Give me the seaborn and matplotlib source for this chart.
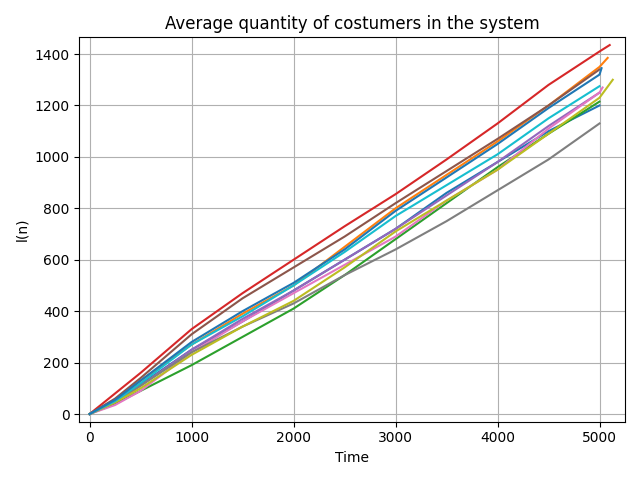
import numpy as np
import pandas as pd
import matplotlib
matplotlib.use("Agg")
import matplotlib.pyplot as plt
import seaborn as sns

time_grid = [0, 250, 500, 1000, 1500, 2000, 2500, 3000, 3500, 4000, 4500, 5000]

blue_a = [0, 50, 115, 250, 360, 480, 600, 720, 860, 980, 1100, 1200]
orange = [0, 55, 130, 270, 390, 500, 650, 800, 930, 1060, 1200, 1350]
green = [0, 40, 90, 190, 300, 410, 540, 680, 820, 960, 1090, 1215]
red = [0, 80, 160, 330, 470, 600, 730, 855, 990, 1130, 1280, 1410]
purple = [0, 50, 110, 250, 370, 480, 600, 720, 850, 980, 1120, 1250]
brown = [0, 60, 140, 310, 450, 570, 690, 820, 945, 1070, 1200, 1340]
pink = [0, 35, 90, 240, 360, 470, 580, 690, 830, 950, 1110, 1250]
gray = [0, 45, 110, 240, 340, 430, 540, 640, 750, 870, 990, 1130]
olive = [0, 45, 100, 230, 340, 440, 570, 710, 830, 950, 1090, 1230]
cyan = [0, 50, 120, 270, 380, 500, 630, 770, 890, 1010, 1150, 1275]
blue_b = [0, 55, 130, 280, 400, 510, 640, 790, 920, 1050, 1190, 1320]

series = [blue_a, orange, green, red, purple, brown, pink, gray, olive, cyan, blue_b]
# final point of each run (time, value), None if run stops at 5000
end_points = [None, (5080, 1385), None, (5100, 1435), None, None,
              (5030, 1270), None, (5130, 1300), None, (5020, 1345)]

fig, ax = plt.subplots(figsize=(6.4, 4.8), dpi=100)
colors = plt.rcParams['axes.prop_cycle'].by_key()['color']
for i, vals in enumerate(series):
    t = list(time_grid)
    v = list(vals)
    if end_points[i] is not None:
        t.append(end_points[i][0])
        v.append(end_points[i][1])
    df = pd.DataFrame({'Time': t, 'l(n)': v})
    sns.lineplot(data=df, x='Time', y='l(n)', ax=ax, color=colors[i % 10], linewidth=1.5)

ax.set_xlim(-100, 5250)
ax.set_ylim(-30, 1465)
ax.grid(True)
ax.set_title('Average quantity of costumers in the system')
ax.set_xlabel('Time')
ax.set_ylabel('l(n)')
plt.tight_layout()
plt.savefig('out.png')
